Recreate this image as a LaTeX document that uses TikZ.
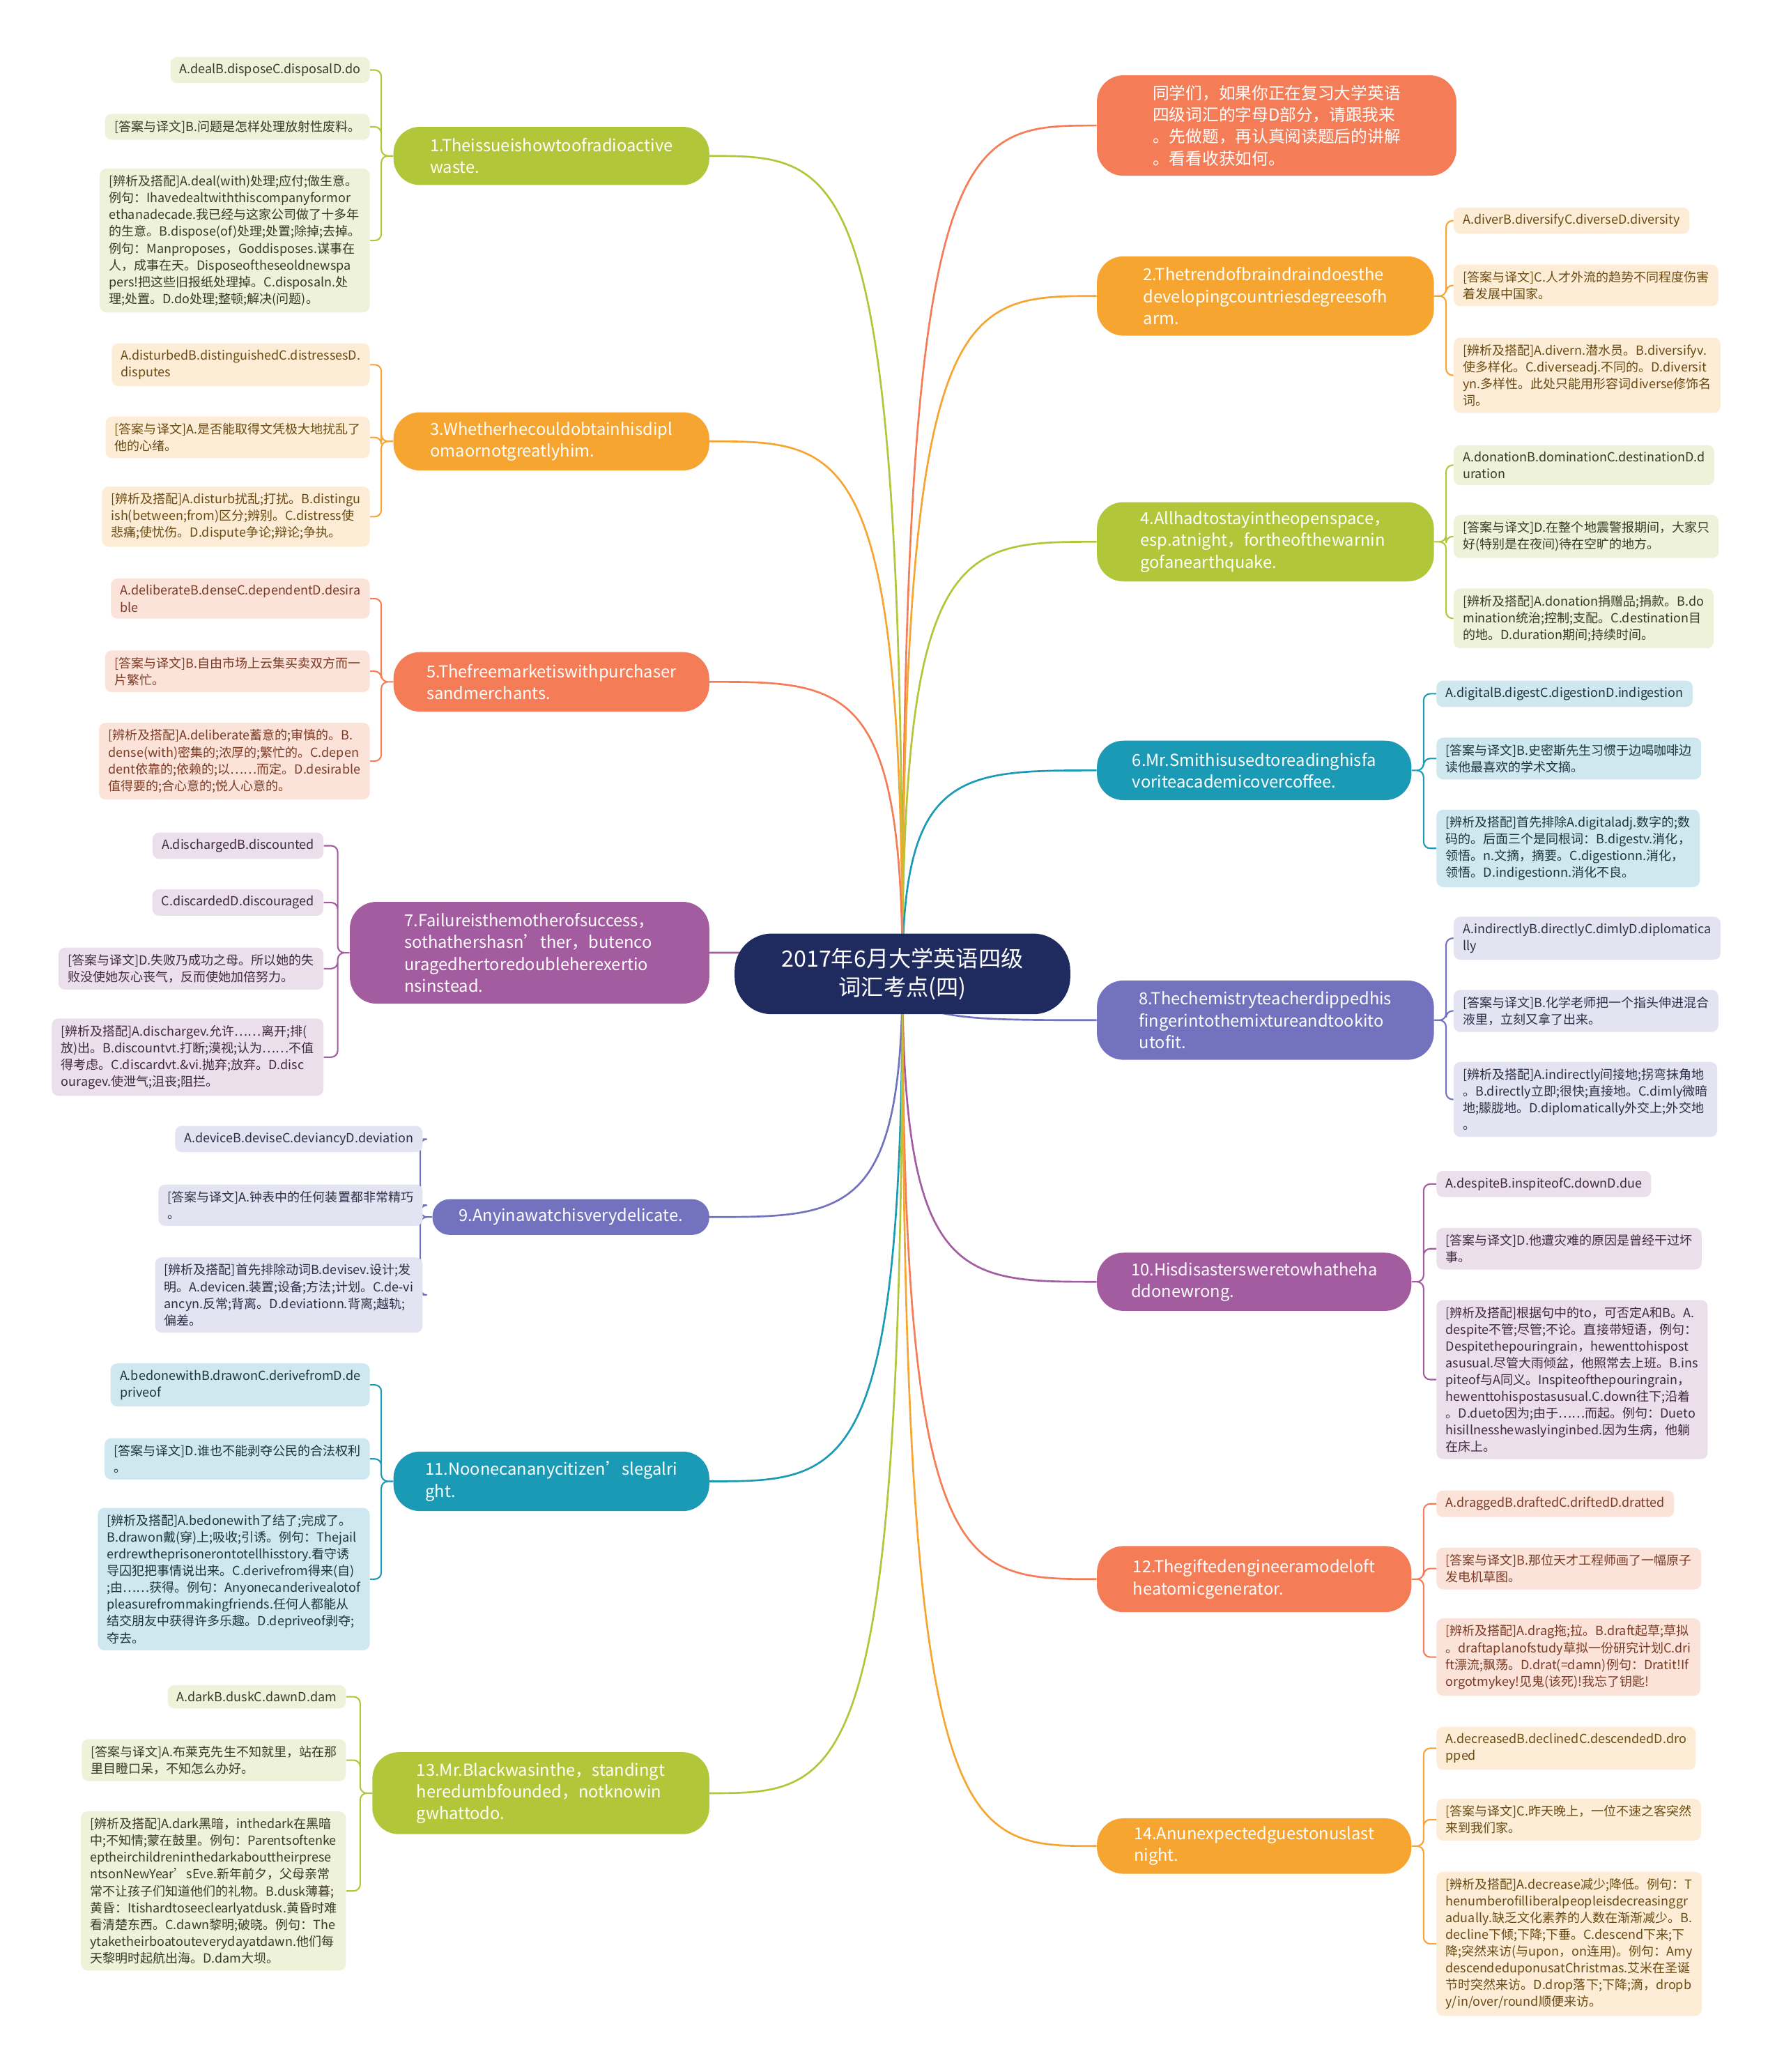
\documentclass[tikz,border=0pt]{standalone}
\usepackage{fontspec}
\setmainfont{Noto Sans CJK SC}
\usepackage{xcolor}
\usepackage{tikz}
\usetikzlibrary{calc,backgrounds}
\definecolor{navy}{HTML}{1F2A5E}
\definecolor{coral}{HTML}{F47C57}
\definecolor{coralL}{HTML}{FCE3DA}
\definecolor{coralD}{HTML}{7A3A24}
\definecolor{amber}{HTML}{F7A531}
\definecolor{amberL}{HTML}{FDEDD6}
\definecolor{amberD}{HTML}{6B4A12}
\definecolor{moss}{HTML}{B2C639}
\definecolor{mossL}{HTML}{EEF2D9}
\definecolor{mossD}{HTML}{3A3A22}
\definecolor{sea}{HTML}{1A9AB5}
\definecolor{seaL}{HTML}{CFE8F0}
\definecolor{seaD}{HTML}{1E333C}
\definecolor{iris}{HTML}{7272BE}
\definecolor{irisL}{HTML}{E3E3F1}
\definecolor{irisD}{HTML}{2E2E48}
\definecolor{plum}{HTML}{A35CA0}
\definecolor{plumL}{HTML}{ECDFEC}
\definecolor{plumD}{HTML}{3D2A3C}

\begin{document}
\begin{tikzpicture}[x=1pt, y=-1pt,
  core/.style={fill=navy, text=white, rounded corners=28pt, align=center, minimum width=254pt, minimum height=61pt, font=\fontsize{17}{22}\selectfont},
  topic/.style={rounded corners=20pt, text=white, align=left, inner xsep=20pt, inner ysep=5pt, font=\fontsize{12.5}{16.5}\selectfont},
  leaf/.style={rounded corners=5pt, align=left, inner xsep=7pt, inner ysep=5pt, font=\fontsize{9.5}{12.7}\selectfont},
  mossleaf/.style={leaf, fill=mossL, text=mossD},
  amberleaf/.style={leaf, fill=amberL, text=amberD},
  coralleaf/.style={leaf, fill=coralL, text=coralD},
  plumleaf/.style={leaf, fill=plumL, text=plumD},
  irisleaf/.style={leaf, fill=irisL, text=irisD},
  sealeaf/.style={leaf, fill=seaL, text=seaD},
  link/.style={line width=1.4pt, to path={.. controls (\tikztostart |- \tikztotarget) and ($(\tikztostart |- \tikztotarget)!0.3!(\tikztotarget)$) .. (\tikztotarget)}},
  twig/.style={line width=1.1pt, rounded corners=5pt}]
\useasboundingbox (0,0) rectangle (1350,1568);

\node[core] (ctr) at (683,737) {2017年6月大学英语四级\\词汇考点(四)};

\node[topic, fill=coral, anchor=west, minimum width=272pt, minimum height=76pt] (r0) at (830,95) {同学们，如果你正在复习大学英语\\四级词汇的字母D部分，请跟我来\\。先做题，再认真阅读题后的讲解\\。看看收获如何。};

\node[topic, fill=amber, anchor=west, minimum width=255pt, minimum height=60pt] (r2) at (830,224) {2.Thetrendofbraindraindoesthe\\developingcountriesdegreesofh\\arm.};
\node[amberleaf, anchor=west] (r2a) at (1100,167) {A.diverB.diversifyC.diverseD.diversity};
\node[amberleaf, anchor=west] (r2b) at (1100,216) {[答案与译文]C.人才外流的趋势不同程度伤害\\着发展中国家。};
\node[amberleaf, anchor=west] (r2c) at (1100,284) {[辨析及搭配]A.divern.潜水员。B.diversifyv.\\使多样化。C.diverseadj.不同的。D.diversit\\yn.多样性。此处只能用形容词diverse修饰名\\词。};

\node[topic, fill=moss, anchor=west, minimum width=255pt, minimum height=60pt] (r4) at (830,410) {4.Allhadtostayintheopenspace，\\esp.atnight，fortheofthewarnin\\gofanearthquake.};
\node[mossleaf, anchor=west] (r4a) at (1100,352) {A.donationB.dominationC.destinationD.d\\uration};
\node[mossleaf, anchor=west] (r4b) at (1100,406) {[答案与译文]D.在整个地震警报期间，大家只\\好(特别是在夜间)待在空旷的地方。};
\node[mossleaf, anchor=west] (r4c) at (1100,468) {[辨析及搭配]A.donation捐赠品;捐款。B.do\\mination统治;控制;支配。C.destination目\\的地。D.duration期间;持续时间。};

\node[topic, fill=sea, anchor=west, minimum width=238pt, minimum height=45pt] (r6) at (830,583) {6.Mr.Smithisusedtoreadinghisfa\\voriteacademicovercoffee.};
\node[sealeaf, anchor=west] (r6a) at (1087,525) {A.digitalB.digestC.digestionD.indigestion};
\node[sealeaf, anchor=west] (r6b) at (1087,574) {[答案与译文]B.史密斯先生习惯于边喝咖啡边\\读他最喜欢的学术文摘。};
\node[sealeaf, anchor=west] (r6c) at (1087,642) {[辨析及搭配]首先排除A.digitaladj.数字的;数\\码的。后面三个是同根词：B.digestv.消化，\\领悟。n.文摘，摘要。C.digestionn.消化，\\领悟。D.indigestionn.消化不良。};

\node[topic, fill=iris, anchor=west, minimum width=255pt, minimum height=60pt] (r8) at (830,772) {8.Thechemistryteacherdippedhis\\fingerintothemixtureandtookito\\utofit.};
\node[irisleaf, anchor=west] (r8a) at (1100,710) {A.indirectlyB.directlyC.dimlyD.diplomatica\\lly};
\node[irisleaf, anchor=west] (r8b) at (1100,765) {[答案与译文]B.化学老师把一个指头伸进混合\\液里，立刻又拿了出来。};
\node[irisleaf, anchor=west] (r8c) at (1100,832) {[辨析及搭配]A.indirectly间接地;拐弯抹角地\\。B.directly立即;很快;直接地。C.dimly微暗\\地;朦胧地。D.diplomatically外交上;外交地\\。};

\node[topic, fill=plum, anchor=west, minimum width=238pt, minimum height=44pt] (r10) at (830,970) {10.Hisdisastersweretowhatheha\\ddonewrong.};
\node[plumleaf, anchor=west] (r10a) at (1087,896) {A.despiteB.inspiteofC.downD.due};
\node[plumleaf, anchor=west] (r10b) at (1087,945) {[答案与译文]D.他遭灾难的原因是曾经干过坏\\事。};
\node[plumleaf, anchor=west] (r10c) at (1087,1044) {[辨析及搭配]根据句中的to，可否定A和B。A.\\despite不管;尽管;不论。直接带短语，例句：\\Despitethepouringrain，hewenttohispost\\asusual.尽管大雨倾盆，他照常去上班。B.ins\\piteof与A同义。Inspiteofthepouringrain，\\hewenttohispostasusual.C.down往下;沿着\\。D.dueto因为;由于……而起。例句：Dueto\\hisillnesshewaslyinginbed.因为生病，他躺\\在床上。};

\node[topic, fill=coral, anchor=west, minimum width=238pt, minimum height=50pt] (r12) at (830,1195) {12.Thegiftedengineeramodeloft\\heatomicgenerator.};
\node[coralleaf, anchor=west] (r12a) at (1087,1138) {A.draggedB.draftedC.driftedD.dratted};
\node[coralleaf, anchor=west] (r12b) at (1087,1187) {[答案与译文]B.那位天才工程师画了一幅原子\\发电机草图。};
\node[coralleaf, anchor=west] (r12c) at (1087,1254) {[辨析及搭配]A.drag拖;拉。B.draft起草;草拟\\。draftaplanofstudy草拟一份研究计划C.dri\\ft漂流;飘荡。D.drat(=damn)例句：Dratit!If\\orgotmykey!见鬼(该死)!我忘了钥匙!};

\node[topic, fill=amber, anchor=west, minimum width=238pt, minimum height=42pt] (r14) at (830,1397) {14.Anunexpectedguestonuslast\\night.};
\node[amberleaf, anchor=west] (r14a) at (1087,1323) {A.decreasedB.declinedC.descendedD.dro\\pped};
\node[amberleaf, anchor=west] (r14b) at (1087,1377) {[答案与译文]C.昨天晚上，一位不速之客突然\\来到我们家。};
\node[amberleaf, anchor=west] (r14c) at (1087,1471) {[辨析及搭配]A.decrease减少;降低。例句：T\\henumberofilliberalpeopleisdecreasinggr\\adually.缺乏文化素养的人数在渐渐减少。B.\\decline下倾;下降;下垂。C.descend下来;下\\降;突然来访(与upon，on连用)。例句：Amy\\descendeduponusatChristmas.艾米在圣诞\\节时突然来访。D.drop落下;下降;滴，dropb\\y/in/over/round顺便来访。};

\node[topic, fill=moss, anchor=east, minimum width=239pt, minimum height=44pt] (l1) at (537,118) {1.Theissueishowtoofradioactive\\waste.};
\node[mossleaf, anchor=east] (l1a) at (280,53) {A.dealB.disposeC.disposalD.do};
\node[mossleaf, anchor=east] (l1b) at (280,96) {[答案与译文]B.问题是怎样处理放射性废料。};
\node[mossleaf, anchor=east] (l1c) at (280,182) {[辨析及搭配]A.deal(with)处理;应付;做生意。\\例句：Ihavedealtwiththiscompanyformor\\ethanadecade.我已经与这家公司做了十多年\\的生意。B.dispose(of)处理;处置;除掉;去掉。\\例句：Manproposes，Goddisposes.谋事在\\人，成事在天。Disposeoftheseoldnewspa\\pers!把这些旧报纸处理掉。C.disposaln.处\\理;处置。D.do处理;整顿;解决(问题)。};

\node[topic, fill=amber, anchor=east, minimum width=239pt, minimum height=44pt] (l3) at (537,334) {3.Whetherhecouldobtainhisdipl\\omaornotgreatlyhim.};
\node[amberleaf, anchor=east] (l3a) at (280,276) {A.disturbedB.distinguishedC.distressesD.\\disputes};
\node[amberleaf, anchor=east] (l3b) at (280,331) {[答案与译文]A.是否能取得文凭极大地扰乱了\\他的心绪。};
\node[amberleaf, anchor=east] (l3c) at (280,391) {[辨析及搭配]A.disturb扰乱;打扰。B.distingu\\ish(between;from)区分;辨别。C.distress使\\悲痛;使忧伤。D.dispute争论;辩论;争执。};

\node[topic, fill=coral, anchor=east, minimum width=239pt, minimum height=45pt] (l5) at (537,516) {5.Thefreemarketiswithpurchaser\\sandmerchants.};
\node[coralleaf, anchor=east] (l5a) at (280,453) {A.deliberateB.denseC.dependentD.desira\\ble};
\node[coralleaf, anchor=east] (l5b) at (280,508) {[答案与译文]B.自由市场上云集买卖双方而一\\片繁忙。};
\node[coralleaf, anchor=east] (l5c) at (280,576) {[辨析及搭配]A.deliberate蓄意的;审慎的。B.\\dense(with)密集的;浓厚的;繁忙的。C.depen\\dent依靠的;依赖的;以……而定。D.desirable\\值得要的;合心意的;悦人心意的。};

\node[topic, fill=plum, anchor=east, minimum width=272pt, minimum height=77pt] (l7) at (537,721) {7.Failureisthemotherofsuccess，\\sothathershasn’ther，butenco\\uragedhertoredoubleherexertio\\nsinstead.};
\node[plumleaf, anchor=east] (l7a) at (245,640) {A.dischargedB.discounted};
\node[plumleaf, anchor=east] (l7b) at (245,683) {C.discardedD.discouraged};
\node[plumleaf, anchor=east] (l7c) at (245,733) {[答案与译文]D.失败乃成功之母。所以她的失\\败没使她灰心丧气，反而使她加倍努力。};
\node[plumleaf, anchor=east] (l7d) at (245,800) {[辨析及搭配]A.dischargev.允许……离开;排(\\放)出。B.discountvt.打断;漠视;认为……不值\\得考虑。C.discardvt.\&vi.抛弃;放弃。D.disc\\ouragev.使泄气;沮丧;阻拦。};

\node[topic, fill=iris, anchor=east, minimum width=199pt, minimum height=27pt, rounded corners=13pt] (l9) at (537,921) {9.Anyinawatchisverydelicate.};
\node[irisleaf, anchor=east] (l9a) at (320,862) {A.deviceB.deviseC.deviancyD.deviation};
\node[irisleaf, anchor=east] (l9b) at (320,912) {[答案与译文]A.钟表中的任何装置都非常精巧\\。};
\node[irisleaf, anchor=east] (l9c) at (320,980) {[辨析及搭配]首先排除动词B.devisev.设计;发\\明。A.devicen.装置;设备;方法;计划。C.de-vi\\ancyn.反常;背离。D.deviationn.背离;越轨;\\偏差。};

\node[topic, fill=sea, anchor=east, minimum width=239pt, minimum height=45pt] (l11) at (537,1121) {11.Noonecananycitizen’slegalri\\ght.};
\node[sealeaf, anchor=east] (l11a) at (280,1048) {A.bedonewithB.drawonC.derivefromD.de\\priveof};
\node[sealeaf, anchor=east] (l11b) at (280,1104) {[答案与译文]D.谁也不能剥夺公民的合法权利\\。};
\node[sealeaf, anchor=east] (l11c) at (280,1195) {[辨析及搭配]A.bedonewith了结了;完成了。\\B.drawon戴(穿)上;吸收;引诱。例句：Thejail\\erdrewtheprisonerontotellhisstory.看守诱\\导囚犯把事情说出来。C.derivefrom得来(自)\\;由……获得。例句：Anyonecanderivealotof\\pleasurefrommakingfriends.任何人都能从\\结交朋友中获得许多乐趣。D.depriveof剥夺;\\夺去。};

\node[topic, fill=moss, anchor=east, minimum width=255pt, minimum height=62pt] (l13) at (537,1357) {13.Mr.Blackwasinthe，standingt\\heredumbfounded，notknowin\\gwhattodo.};
\node[mossleaf, anchor=east] (l13a) at (262,1284) {A.darkB.duskC.dawnD.dam};
\node[mossleaf, anchor=east] (l13b) at (262,1332) {[答案与译文]A.布莱克先生不知就里，站在那\\里目瞪口呆，不知怎么办好。};
\node[mossleaf, anchor=east] (l13c) at (262,1431) {[辨析及搭配]A.dark黑暗，inthedark在黑暗\\中;不知情;蒙在鼓里。例句：Parentsoftenke\\eptheirchildreninthedarkabouttheirprese\\ntsonNewYear’sEve.新年前夕，父母亲常\\常不让孩子们知道他们的礼物。B.dusk薄暮;\\黄昏：Itishardtoseeclearlyatdusk.黄昏时难\\看清楚东西。C.dawn黎明;破晓。例句：The\\ytaketheirboatouteverydayatdawn.他们每\\天黎明时起航出海。D.dam大坝。};

\begin{scope}[on background layer]
\fill[white] (0,0) rectangle (1350,1568);
\draw[link, coral] (ctr.center) to (r0.west);
\draw[link, amber] (ctr.center) to (r2.west);
\draw[link, moss] (ctr.center) to (r4.west);
\draw[link, sea] (ctr.center) to (r6.west);
\draw[link, iris] (ctr.center) to (r8.west);
\draw[link, plum] (ctr.center) to (r10.west);
\draw[link, coral] (ctr.center) to (r12.west);
\draw[link, amber] (ctr.center) to (r14.west);
\draw[link, moss] (ctr.center) to (l1.east);
\draw[link, amber] (ctr.center) to (l3.east);
\draw[link, coral] (ctr.center) to (l5.east);
\draw[link, plum] (ctr.center) to (l7.east);
\draw[link, iris] (ctr.center) to (l9.east);
\draw[link, sea] (ctr.center) to (l11.east);
\draw[link, moss] (ctr.center) to (l13.east);

\draw[twig, amber] (r2.east) -- ++(9,0) |- (r2a.west) (r2.east) -- ++(9,0) |- (r2b.west) (r2.east) -- ++(9,0) |- (r2c.west);
\draw[twig, moss] (r4.east) -- ++(9,0) |- (r4a.west) (r4.east) -- ++(9,0) |- (r4b.west) (r4.east) -- ++(9,0) |- (r4c.west);
\draw[twig, sea] (r6.east) -- ++(9,0) |- (r6a.west) (r6.east) -- ++(9,0) |- (r6b.west) (r6.east) -- ++(9,0) |- (r6c.west);
\draw[twig, iris] (r8.east) -- ++(9,0) |- (r8a.west) (r8.east) -- ++(9,0) |- (r8b.west) (r8.east) -- ++(9,0) |- (r8c.west);
\draw[twig, plum] (r10.east) -- ++(9,0) |- (r10a.west) (r10.east) -- ++(9,0) |- (r10b.west) (r10.east) -- ++(9,0) |- (r10c.west);
\draw[twig, coral] (r12.east) -- ++(9,0) |- (r12a.west) (r12.east) -- ++(9,0) |- (r12b.west) (r12.east) -- ++(9,0) |- (r12c.west);
\draw[twig, amber] (r14.east) -- ++(9,0) |- (r14a.west) (r14.east) -- ++(9,0) |- (r14b.west) (r14.east) -- ++(9,0) |- (r14c.west);
\draw[twig, moss] (l1.west) -- ++(-9,0) |- (l1a.east) (l1.west) -- ++(-9,0) |- (l1b.east) (l1.west) -- ++(-9,0) |- (l1c.east);
\draw[twig, amber] (l3.west) -- ++(-9,0) |- (l3a.east) (l3.west) -- ++(-9,0) |- (l3b.east) (l3.west) -- ++(-9,0) |- (l3c.east);
\draw[twig, coral] (l5.west) -- ++(-9,0) |- (l5a.east) (l5.west) -- ++(-9,0) |- (l5b.east) (l5.west) -- ++(-9,0) |- (l5c.east);
\draw[twig, plum] (l7.west) -- ++(-9,0) |- (l7a.east) (l7.west) -- ++(-9,0) |- (l7b.east) (l7.west) -- ++(-9,0) |- (l7c.east) (l7.west) -- ++(-9,0) |- (l7d.east);
\draw[twig, iris] (l9.west) -- ++(-9,0) |- (l9a.east) (l9.west) -- ++(-9,0) |- (l9b.east) (l9.west) -- ++(-9,0) |- (l9c.east);
\draw[twig, sea] (l11.west) -- ++(-9,0) |- (l11a.east) (l11.west) -- ++(-9,0) |- (l11b.east) (l11.west) -- ++(-9,0) |- (l11c.east);
\draw[twig, moss] (l13.west) -- ++(-9,0) |- (l13a.east) (l13.west) -- ++(-9,0) |- (l13b.east) (l13.west) -- ++(-9,0) |- (l13c.east);
\end{scope}
\end{tikzpicture}
\end{document}
